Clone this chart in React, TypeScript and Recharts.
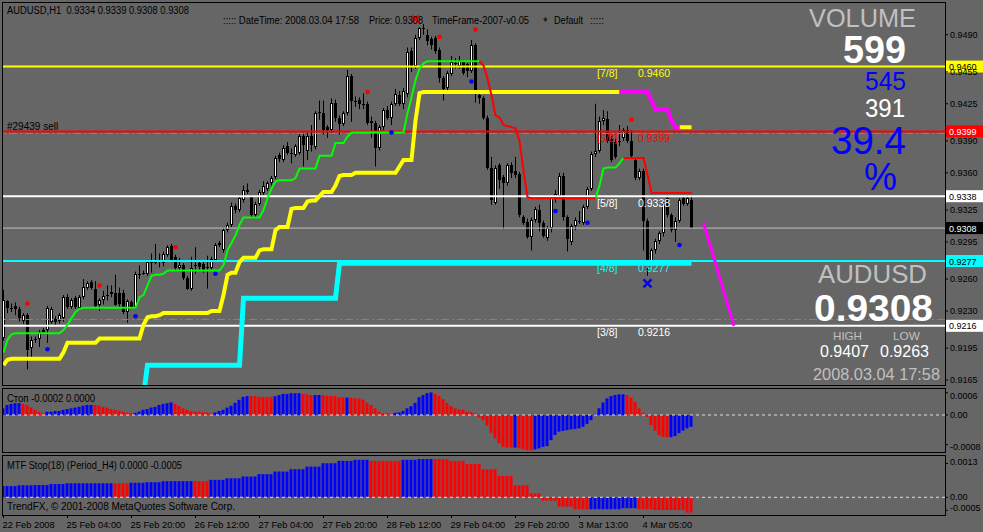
import React from "react";
import { Bar, Cell, ComposedChart, Line, ReferenceLine, Scatter, XAxis, YAxis } from "recharts";

const FONT = "Tahoma, 'Liberation Sans', Arial, sans-serif";
const BIG = "'Liberation Sans', Arial, sans-serif";
const BG = "#666666";

// AUDUSD H1 bars: [open, high, low, close] in 1/10000
const candles = [
  [9205, 9250, 9202, 9240], [9239, 9240, 9228, 9233], [9233, 9237, 9229, 9233], [9235, 9238, 9226, 9232], [9232, 9234, 9220, 9223],
  [9221, 9228, 9218, 9226], [9226, 9228, 9175, 9193], [9195, 9206, 9186, 9203], [9203, 9206, 9200, 9204], [9204, 9212, 9196, 9210],
  [9210, 9214, 9208, 9212], [9212, 9235, 9200, 9233], [9220, 9234, 9218, 9232], [9222, 9225, 9216, 9220], [9221, 9228, 9218, 9226],
  [9223, 9245, 9220, 9243], [9243, 9246, 9232, 9234], [9234, 9242, 9232, 9240], [9242, 9244, 9232, 9234], [9233, 9245, 9231, 9243],
  [9243, 9260, 9241, 9253], [9252, 9258, 9250, 9256], [9257, 9259, 9250, 9252], [9251, 9258, 9233, 9235], [9236, 9242, 9230, 9240],
  [9240, 9249, 9236, 9244], [9245, 9254, 9240, 9245], [9246, 9254, 9243, 9248], [9247, 9264, 9235, 9236], [9247, 9252, 9234, 9237],
  [9247, 9250, 9227, 9229], [9229, 9241, 9219, 9239], [9238, 9240, 9232, 9234], [9234, 9267, 9232, 9265], [9265, 9273, 9260, 9265],
  [9266, 9268, 9264, 9266], [9265, 9278, 9263, 9276], [9275, 9284, 9266, 9277], [9276, 9293, 9274, 9276], [9276, 9284, 9271, 9277],
  [9275, 9286, 9272, 9284], [9283, 9292, 9281, 9290], [9291, 9293, 9276, 9278], [9281, 9283, 9268, 9270], [9270, 9280, 9267, 9273],
  [9273, 9275, 9259, 9261], [9261, 9263, 9250, 9251], [9251, 9281, 9249, 9270], [9273, 9290, 9265, 9273], [9275, 9278, 9268, 9271],
  [9274, 9276, 9266, 9268], [9271, 9282, 9251, 9271], [9270, 9281, 9268, 9279], [9278, 9294, 9276, 9292], [9294, 9296, 9290, 9292],
  [9287, 9308, 9285, 9306], [9306, 9313, 9304, 9311], [9311, 9332, 9309, 9329], [9329, 9331, 9322, 9325], [9325, 9338, 9323, 9336],
  [9334, 9348, 9332, 9344], [9344, 9350, 9340, 9342], [9337, 9339, 9318, 9320], [9320, 9333, 9318, 9331], [9331, 9344, 9329, 9342],
  [9341, 9352, 9339, 9348], [9345, 9352, 9343, 9350], [9350, 9357, 9348, 9355], [9356, 9376, 9354, 9374], [9377, 9379, 9370, 9373],
  [9372, 9386, 9370, 9383], [9385, 9389, 9377, 9379], [9379, 9383, 9369, 9379], [9377, 9387, 9375, 9385], [9379, 9397, 9377, 9395],
  [9395, 9398, 9366, 9386], [9381, 9398, 9372, 9395], [9395, 9405, 9380, 9386], [9384, 9418, 9382, 9416], [9416, 9428, 9410, 9417],
  [9416, 9428, 9396, 9400], [9403, 9405, 9393, 9400], [9400, 9430, 9397, 9426], [9426, 9429, 9408, 9412], [9412, 9414, 9396, 9406],
  [9406, 9418, 9404, 9416], [9416, 9457, 9414, 9451], [9451, 9453, 9408, 9428], [9428, 9432, 9422, 9428], [9429, 9431, 9420, 9425],
  [9425, 9435, 9420, 9425], [9425, 9427, 9405, 9407], [9409, 9413, 9393, 9407], [9407, 9409, 9366, 9383], [9383, 9405, 9381, 9403],
  [9403, 9421, 9400, 9419], [9419, 9423, 9410, 9412], [9412, 9427, 9405, 9425], [9425, 9439, 9423, 9434], [9433, 9437, 9423, 9425],
  [9425, 9440, 9420, 9437], [9434, 9478, 9431, 9474], [9475, 9478, 9455, 9461], [9461, 9490, 9458, 9487], [9487, 9497, 9485, 9496],
  [9496, 9500, 9490, 9495], [9490, 9495, 9480, 9484], [9486, 9488, 9476, 9480], [9487, 9489, 9472, 9475], [9476, 9478, 9445, 9449],
  [9449, 9451, 9428, 9439], [9440, 9456, 9437, 9454], [9453, 9470, 9451, 9464], [9463, 9468, 9458, 9463], [9461, 9470, 9458, 9466],
  [9464, 9466, 9452, 9454], [9462, 9464, 9450, 9456], [9456, 9485, 9454, 9480], [9480, 9482, 9426, 9437], [9433, 9436, 9425, 9430],
  [9430, 9432, 9410, 9412], [9412, 9414, 9363, 9365], [9365, 9375, 9330, 9334], [9332, 9367, 9330, 9365], [9367, 9369, 9345, 9353],
  [9356, 9358, 9307, 9350], [9350, 9369, 9348, 9367], [9367, 9370, 9355, 9360], [9362, 9375, 9355, 9358], [9359, 9361, 9318, 9320],
  [9318, 9320, 9311, 9313], [9314, 9317, 9298, 9300], [9300, 9318, 9287, 9316], [9316, 9328, 9313, 9326], [9325, 9330, 9305, 9313],
  [9313, 9315, 9299, 9301], [9299, 9310, 9296, 9308], [9308, 9338, 9304, 9336], [9336, 9344, 9332, 9340], [9338, 9360, 9336, 9357],
  [9357, 9360, 9315, 9318], [9318, 9320, 9286, 9298], [9295, 9312, 9292, 9310], [9310, 9318, 9306, 9316], [9315, 9324, 9312, 9315],
  [9313, 9330, 9311, 9328], [9328, 9347, 9326, 9345], [9345, 9380, 9343, 9378], [9378, 9425, 9375, 9381], [9381, 9413, 9379, 9409],
  [9409, 9419, 9405, 9412], [9411, 9418, 9388, 9390], [9392, 9395, 9370, 9372], [9389, 9392, 9373, 9375], [9390, 9405, 9385, 9390],
  [9393, 9402, 9390, 9400], [9400, 9404, 9388, 9390], [9390, 9400, 9374, 9376], [9372, 9374, 9353, 9355], [9355, 9364, 9353, 9362],
  [9362, 9364, 9287, 9315], [9315, 9317, 9263, 9273], [9274, 9289, 9270, 9287], [9287, 9298, 9284, 9296], [9296, 9305, 9293, 9303],
  [9303, 9333, 9300, 9331], [9336, 9338, 9318, 9320], [9320, 9322, 9304, 9306], [9306, 9318, 9295, 9315], [9315, 9336, 9313, 9334],
  [9336, 9338, 9329, 9331], [9331, 9339, 9329, 9336], [9334, 9339, 9308, 9308],
];

// step indicators as [value, number of bars], price in 1/10000
const stopRuns = [
  [9191, 1], [9203, 1], [9208, 1], [9209, 12], [9212, 1], [9217, 1], [9223, 1], [9229, 1], [9232, 1], [9233, 14],
  [9243, 1], [9245, 1], [9254, 1], [9263, 1], [9264, 2], [9265, 1], [9268, 14], [9273, 1], [9287, 1], [9294, 1],
  [9301, 1], [9311, 1], [9318, 5], [9325, 1], [9336, 1], [9345, 1], [9352, 1], [9353, 4], [9355, 1], [9364, 5],
  [9376, 4], [9388, 3], [9394, 1], [9398, 14], [9416, 1], [9431, 1], [9447, 1], [9458, 1], [9463, 1], [9465, 14],
  [9461, 1], [9449, 1], [9433, 1], [9414, 1], [9412, 1], [9405, 1], [9404, 1], [9403, 1], [9402, 1], [9390, 1],
  [9362, 1], [9337, 1], [9336, 17], [9348, 1], [9364, 1], [9365, 3], [9369, 1], [9374, 6], [9358, 1], [9341, 11],
];
const stopTrend = [["up", 120], ["dn", 29], ["up", 7], ["dn", 17]];

const trailRuns = [
  [9179, 1], [9184, 1], [9185, 13], [9191, 1], [9200, 8], [9204, 11], [9217, 1], [9224, 1], [9225, 2], [9226, 1],
  [9228, 12], [9230, 3], [9245, 1], [9264, 1], [9266, 2], [9276, 1], [9280, 4], [9287, 1], [9288, 3], [9306, 1],
  [9309, 3], [9326, 1], [9327, 3], [9333, 1], [9334, 2], [9338, 1], [9342, 3], [9348, 1], [9357, 1], [9358, 3],
  [9360, 11], [9366, 1], [9372, 3], [9409, 1], [9435, 1], [9436, 57], [9428, 1], [9420, 4], [9409, 1], [9403, 5],
];
const trailTrend = [["y", 155], ["m", 15], ["y", 3]];

const cyanRuns = [[null, 35], [9150, 1], [9179, 24], [9242, 24], [9275, 89]];

// Стоп histogram, 1/100000
const cronVals = [
  18, 27, 30, 32, 32, 30, 27, 21, 14, 9, 5, 9, 9, 11, 11, 14, 16, 18, 20, 22,
  25, 27, 27, 27, 25, 22, 20, 16, 14, 12, 9, 7, 5, 6, 9, 14, 16, 20, 22, 27,
  30, 32, 34, 30, 24, 18, 14, 11, 9, 9, 7, 7, 5, 7, 11, 14, 20, 25, 33, 41,
  49, 51, 51, 51, 49, 49, 49, 49, 51, 54, 57, 57, 59, 59, 59, 57, 56, 54, 54, 54,
  54, 52, 52, 51, 48, 48, 47, 47, 45, 45, 42, 33, 27, 18, 9, 5, 5, 3, 6, 7,
  11, 18, 24, 33, 48, 54, 59, 61, 57, 52, 43, 32, 24, 18, 15, 14, 9, 7, 5, -6,
  -14, -29, -48, -63, -76, -86, -88, -88, -88, -90, -92, -95, -96, -93, -90, -86, -84, -68, -54, -45,
  -43, -41, -39, -38, -36, -32, -24, -14, 3, 18, 34, 45, 51, 54, 56, 56, 54, 47, 36, 18,
  6, -5, -27, -42, -54, -59, -60, -60, -57, -49, -42, -36, -32,
];
const cronColors = [
  ["b", 5], ["r", 6], ["b", 12], ["r", 10], ["b", 10], ["r", 10], ["b", 9], ["r", 6], ["b", 7], ["r", 3], ["b", 2],
  ["r", 6], ["b", 1], ["r", 11], ["b", 10], ["r", 20], ["b", 1], ["r", 4], ["b", 23], ["r", 11], ["b", 6],
];

// MTF Stop histogram, 1/100000
const mtfRuns = [
  [43, 4], [46, 4], [47, 4], [51, 4], [54, 16], [56, 4], [58, 4], [62, 12], [67, 4], [73, 4], [80, 4], [89, 4],
  [99, 4], [108, 4], [118, 4], [131, 4], [140, 4], [144, 4], [140, 8], [144, 4], [147, 8], [140, 4], [128, 4],
  [108, 4], [82, 4], [46, 4], [15, 3], [-13, 4], [-36, 4], [-46, 12], [-42, 4], [-46, 4], [-49, 8], [-59, 2],
];
const mtfColors = [["b", 28], ["r", 4], ["b", 16], ["r", 4], ["b", 40], ["r", 8], ["b", 8], ["r", 39], ["b", 12], ["r", 14]];

const timeTicks = [0, 16, 32, 48, 64, 80, 96, 112, 128, 144, 160];
const timeLabels = [
  "22 Feb 2008", "25 Feb 04:00", "25 Feb 20:00", "26 Feb 12:00", "27 Feb 04:00", "27 Feb 20:00",
  "28 Feb 12:00", "29 Feb 04:00", "29 Feb 20:00", "3 Mar 13:00", "4 Mar 05:00",
];
const priceTicks = [0.949, 0.9455, 0.9425, 0.939, 0.936, 0.9325, 0.9295, 0.926, 0.923, 0.9195, 0.9165];
const levelPrices = [0.946, 0.9399, 0.9338, 0.9277, 0.9216];
const levelNames = ["[7/8]", "[6/8]", "[5/8]", "[4/8]", "[3/8]"];
const bidPrice = 0.9308;
const orderPrices = [0.9397, 0.9222];

const redDots = [
  { i: 6, p: 0.9237 }, { i: 24, p: 0.9254 }, { i: 43, p: 0.929 }, { i: 91, p: 0.9436 },
  { i: 109, p: 0.9488 }, { i: 118, p: 0.9495 }, { i: 157, p: 0.941 },
];
const blueDots = [
  { i: 11, p: 0.9194 }, { i: 33, p: 0.9225 }, { i: 53, p: 0.9265 }, { i: 97, p: 0.9398 },
  { i: 117, p: 0.9446 }, { i: 138, p: 0.9324 }, { i: 146, p: 0.9313 }, { i: 169, p: 0.9292 },
];
const blueCross = [{ i: 161, p: 0.9256 }];
const redCross = [{ i: 103, p: 0.9505 }];
const projection = [{ i: 175, p: 0.9313 }, { i: 182.6, p: 0.9216 }];

const levelColors = ["#ffff00", "#ff0000", "#ffffff", "#00ffff", "#ffffff"];
const levelInk = ["#000", "#fff", "#000", "#000", "#000"];

const X_DOMAIN = [-0.125, 235.375];
const MAIN_Y = [0.916031, 0.951984];
const CRON_Y = [-0.001027, 0.000703];
const MTF_Y = [-0.000681, 0.001588];

const expand = (runs: any[]) => runs.flatMap(([v, n]) => Array(n).fill(v));
const expandDir = (runs: any[]) => runs.flatMap(([d, n]) => Array(n).fill(d));
const onRun = (dirs: string[], i: number, d: string) => dirs[i] === d || dirs[i + 1] === d;

const stop = expand(stopRuns);
const stopDir = expandDir(stopTrend);
const trail = expand(trailRuns);
const trailDir = expandDir(trailTrend);
const cyan = expand(cyanRuns);
const cronCol = expandDir(cronColors);
const mtfVals = expand(mtfRuns);
const mtfCol = expandDir(mtfColors);

const mainData = candles.map(([o, h, l, c], i) => ({
  i,
  o: o / 1e4,
  h: h / 1e4,
  l: l / 1e4,
  c: c / 1e4,
  stopUp: onRun(stopDir, i, "up") ? stop[i] / 1e4 : null,
  stopDn: onRun(stopDir, i, "dn") ? stop[i] / 1e4 : null,
  trailY: onRun(trailDir, i, "y") ? trail[i] / 1e4 : null,
  trailM: onRun(trailDir, i, "m") ? trail[i] / 1e4 : null,
  cyan: cyan[i] == null ? null : cyan[i] / 1e4,
}));
const cronData = cronVals.map((v, i) => ({ i, v: v / 1e5 }));
const mtfData = mtfVals.map((v, i) => ({ i, v: v / 1e5 }));

function Candle(props: any) {
  const { x, y, width, height, payload } = props;
  if (!payload || !Number.isFinite(y)) return null;
  const top = Math.min(y, y + height);
  const span = Math.abs(height);
  const { o, h, l, c } = payload;
  const k = h > l ? span / (h - l) : 0;
  const yo = top + (h - o) * k;
  const yc = top + (h - c) * k;
  const cx = Math.floor(x + width / 2);
  const yt = Math.round(Math.min(yo, yc));
  const yb = Math.round(Math.max(yo, yc));
  const bull = c > o && yb - yt > 1;
  return (
    <g>
      <line x1={cx + 0.5} x2={cx + 0.5} y1={top} y2={top + span} stroke="#000" />
      {bull ? (
        <rect x={cx - 0.5} y={yt + 0.5} width={2} height={yb - yt - 1} fill="#fff" stroke="#000" />
      ) : (
        <rect x={cx - 1} y={yt} width={3} height={Math.max(yb - yt, 1)} fill="#000" />
      )}
    </g>
  );
}

function PriceTag(props: any) {
  const { viewBox, name, price, color, ink } = props;
  if (!viewBox) return null;
  const { x, y, width } = viewBox;
  return (
    <g fontFamily={FONT}>
      {name ? (
        <>
          <text x={x + 594} y={y + 10.5} fill={color} fontSize={10.5}>{name}</text>
          <text x={x + 635} y={y + 10.5} fill={color} fontSize={10.5}>{price.toFixed(4)}</text>
        </>
      ) : null}
      <rect x={x + width + 1} y={y - 6} width={37} height={12} fill={color} />
      <text x={x + width + 4} y={y + 3.5} fill={ink} fontSize={9}>{price.toFixed(4)}</text>
    </g>
  );
}

const Dot = (color: string) => (p: any) => <circle cx={p.cx} cy={p.cy} r={2.3} fill={color} />;
const Cross = (color: string, s: number, w: number) => (p: any) => (
  <g stroke={color} strokeWidth={w}>
    <line x1={p.cx - s} y1={p.cy - s} x2={p.cx + s} y2={p.cy + s} />
    <line x1={p.cx - s} y1={p.cy + s} x2={p.cx + s} y2={p.cy - s} />
  </g>
);

const subTick = (nudge: Record<string, number>) => (p: any) => {
  const v = p.payload.value;
  return (
    <text x={p.x} y={p.y} dy={3 + (nudge[String(v)] ?? 0)} fill="#000" fontSize={9} fontFamily={FONT}>
      {v === 0 ? "0.00" : v.toFixed(4)}
    </text>
  );
};

const TimeTick = (p: any) => (
  <g>
    <line x1={p.x} x2={p.x} y1={p.y} y2={p.y + 3} stroke="#000" />
    <text x={p.x - 1} y={p.y + 12.7} fill="#000" fontSize={9.3} fontFamily={FONT}>
      {timeLabels[timeTicks.indexOf(p.payload.value)]}
    </text>
  </g>
);

const T = (props: any) => <text fontFamily={FONT} lengthAdjust="spacingAndGlyphs" style={{ whiteSpace: "pre" }} {...props} />;

export default function App() {
  return (
    <div style={{ position: "absolute", left: 0, top: 0, width: 983, height: 532, background: BG, overflow: "hidden" }}>
      <div style={{ position: "absolute", left: 0, top: 0 }}>
        <ComposedChart width={983} height={386} data={mainData} margin={{ top: 3, right: 0, bottom: 1, left: 3 }}>
          <XAxis type="number" dataKey="i" domain={X_DOMAIN} hide allowDataOverflow />
          <YAxis
            orientation="right"
            type="number"
            domain={MAIN_Y}
            allowDataOverflow
            ticks={priceTicks}
            interval={0}
            width={38}
            tickSize={3}
            tickMargin={2}
            axisLine={false}
            tickLine={{ stroke: "#000" }}
            tick={{ fill: "#000", fontSize: 9, fontFamily: FONT }}
            tickFormatter={(v: number) => v.toFixed(4)}
          />
          {levelPrices.map((p, k) => (
            <ReferenceLine
              key={p}
              y={p}
              stroke={levelColors[k]}
              strokeWidth={2}
              label={<PriceTag name={levelNames[k]} price={p} color={levelColors[k]} ink={levelInk[k]} />}
            />
          ))}
          <ReferenceLine
            y={orderPrices[0]}
            stroke="#ff5a1e"
            strokeDasharray="8 3 2 3"
            label={(p: any) => (
              <text x={p.viewBox.x + 4} y={p.viewBox.y - 4} fill="#000" fontSize={10} fontFamily={FONT}>#29439 sell</text>
            )}
          />
          <ReferenceLine y={orderPrices[1]} stroke="#ff5a1e" strokeDasharray="8 3 2 3" />
          <ReferenceLine y={bidPrice} stroke="#c0c0c0" label={<PriceTag price={bidPrice} color="#000" ink="#fff" />} />
          <Bar dataKey={(d: any) => [d.l, d.h]} barSize={3} shape={(p: any) => <Candle {...p} />} isAnimationActive={false} />
          <Line dataKey="cyan" stroke="#00ffff" strokeWidth={5} dot={false} isAnimationActive={false} />
          <Line dataKey="trailY" stroke="#ffff00" strokeWidth={4} dot={false} isAnimationActive={false} />
          <Line dataKey="trailM" stroke="#ff00ff" strokeWidth={4} dot={false} isAnimationActive={false} />
          <Line dataKey="stopUp" stroke="#00ff00" strokeWidth={2} dot={false} isAnimationActive={false} />
          <Line dataKey="stopDn" stroke="#ff0000" strokeWidth={2} dot={false} isAnimationActive={false} />
          <Line data={projection} dataKey="p" stroke="#ff00ff" strokeWidth={3} dot={false} isAnimationActive={false} />
          <Scatter data={redDots} dataKey="p" shape={Dot("#ff0000")} isAnimationActive={false} />
          <Scatter data={blueDots} dataKey="p" shape={Dot("#0000ff")} isAnimationActive={false} />
          <Scatter data={blueCross} dataKey="p" shape={Cross("#0000ff", 4, 2.5)} isAnimationActive={false} />
          <Scatter data={redCross} dataKey="p" shape={Cross("#ff0000", 3.5, 2)} isAnimationActive={false} />
        </ComposedChart>
      </div>

      <div style={{ position: "absolute", left: 0, top: 388 }}>
        <ComposedChart width={983} height={65} data={cronData} margin={{ top: 1, right: 0, bottom: 0, left: 3 }}>
          <XAxis type="number" dataKey="i" domain={X_DOMAIN} hide allowDataOverflow />
          <YAxis
            orientation="right"
            type="number"
            domain={CRON_Y}
            allowDataOverflow
            ticks={[0.0006, 0, -0.0008]}
            interval={0}
            width={38}
            tickSize={3}
            tickMargin={2}
            axisLine={false}
            tickLine={{ stroke: "#000" }}
            tick={subTick({ "0.0006": 3, "-0.0008": 2 })}
          />
          <Bar dataKey="v" barSize={3} isAnimationActive={false}>
            {cronData.map((d) => (
              <Cell key={d.i} fill={cronCol[d.i] === "b" ? "#0000ff" : "#ff0000"} />
            ))}
          </Bar>
          <ReferenceLine y={0} stroke="#e0e0e0" strokeDasharray="3 3" />
        </ComposedChart>
      </div>

      <div style={{ position: "absolute", left: 0, top: 455 }}>
        <ComposedChart width={983} height={77} data={mtfData} margin={{ top: 1, right: 0, bottom: 0, left: 3 }}>
          <XAxis
            type="number"
            dataKey="i"
            domain={X_DOMAIN}
            allowDataOverflow
            ticks={timeTicks}
            interval={0}
            height={17}
            axisLine={false}
            tickLine={false}
            tickSize={0}
            tickMargin={0}
            tick={TimeTick}
          />
          <YAxis
            orientation="right"
            type="number"
            domain={MTF_Y}
            allowDataOverflow
            ticks={[0.0013, 0, -0.0005]}
            interval={0}
            width={38}
            tickSize={3}
            tickMargin={2}
            axisLine={false}
            tickLine={{ stroke: "#000" }}
            tick={subTick({ "0.0013": -1, "-0.0005": -2 })}
          />
          <Bar dataKey="v" barSize={3} isAnimationActive={false}>
            {mtfData.map((d) => (
              <Cell key={d.i} fill={mtfCol[d.i] === "b" ? "#0000ff" : "#ff0000"} />
            ))}
          </Bar>
          <ReferenceLine y={0} stroke="#e0e0e0" strokeDasharray="3 3" />
        </ComposedChart>
      </div>

      <svg width={983} height={532} style={{ position: "absolute", left: 0, top: 0, pointerEvents: "none" }}>
        <g fill="none" stroke="#000">
          <rect x={2.5} y={2.5} width={943} height={383} />
          <rect x={2.5} y={388.5} width={943} height={64} />
          <rect x={2.5} y={455.5} width={943} height={60} />
        </g>
        <T x={7} y={14} fontSize={10} fill="#000" textLength={182}>AUDUSD,H1  0.9334 0.9339 0.9308 0.9308</T>
        <T x={223} y={24} fontSize={10} fill="#000" textLength={136}>::::: DateTime: 2008.03.04 17:58</T>
        <T x={369} y={24} fontSize={10} fill="#000" textLength={54}>Price: 0.9308</T>
        <T x={432} y={24} fontSize={10} fill="#000" textLength={97}>TimeFrame-2007-v0.05</T>
        <T x={543} y={26} fontSize={12} fill="#000">*</T>
        <T x={554} y={24} fontSize={10} fill="#000" textLength={29}>Default</T>
        <T x={590} y={24} fontSize={10} fill="#000" textLength={14}>:::::</T>

        <T x={809} y={27.3} fontSize={25} fontFamily={BIG} fill="#c0c0c0" textLength={107}>VOLUME</T>
        <T x={843} y={63.3} fontSize={39} fontFamily={BIG} fontWeight="bold" fill="#fff" textLength={63}>599</T>
        <T x={865} y={90} fontSize={25} fontFamily={BIG} fill="#0000ff" textLength={41}>545</T>
        <T x={865} y={116.7} fontSize={25} fontFamily={BIG} fill="#fff" textLength={40}>391</T>
        <T x={831} y={154} fontSize={39} fontFamily={BIG} fill="#0000ff" textLength={75}>39.4</T>
        <T x={864} y={190} fontSize={38} fontFamily={BIG} fill="#0000ff" textLength={33}>%</T>

        <T x={818} y={283.3} fontSize={25.5} fontFamily={BIG} fill="#c0c0c0" textLength={109}>AUDUSD</T>
        <T x={814} y={320.7} fontSize={37} fontFamily={BIG} fontWeight="bold" fill="#fff" textLength={119}>0.9308</T>
        <T x={833} y={340} fontSize={11} fontFamily={BIG} fill="#c0c0c0" textLength={29}>HIGH</T>
        <T x={893} y={340} fontSize={11} fontFamily={BIG} fill="#c0c0c0" textLength={27}>LOW</T>
        <T x={820} y={356.7} fontSize={16.5} fontFamily={BIG} fill="#fff" textLength={49}>0.9407</T>
        <T x={880} y={356.7} fontSize={16.5} fontFamily={BIG} fill="#fff" textLength={49}>0.9263</T>
        <T x={813} y={380} fontSize={16.5} fontFamily={BIG} fill="#c0c0c0" textLength={127}>2008.03.04 17:58</T>

        <T x={7} y={401.7} fontSize={10} fill="#000" textLength={88}>Стоп -0.0002 0.0000</T>
        <T x={7} y={469} fontSize={10} fill="#000" textLength={175}>MTF Stop(18) (Period_H4) 0.0000 -0.0005</T>
        <T x={7} y={510} fontSize={10} fill="#000" textLength={228}>TrendFX, © 2001-2008 MetaQuotes Software Corp.</T>
      </svg>
    </div>
  );
}
